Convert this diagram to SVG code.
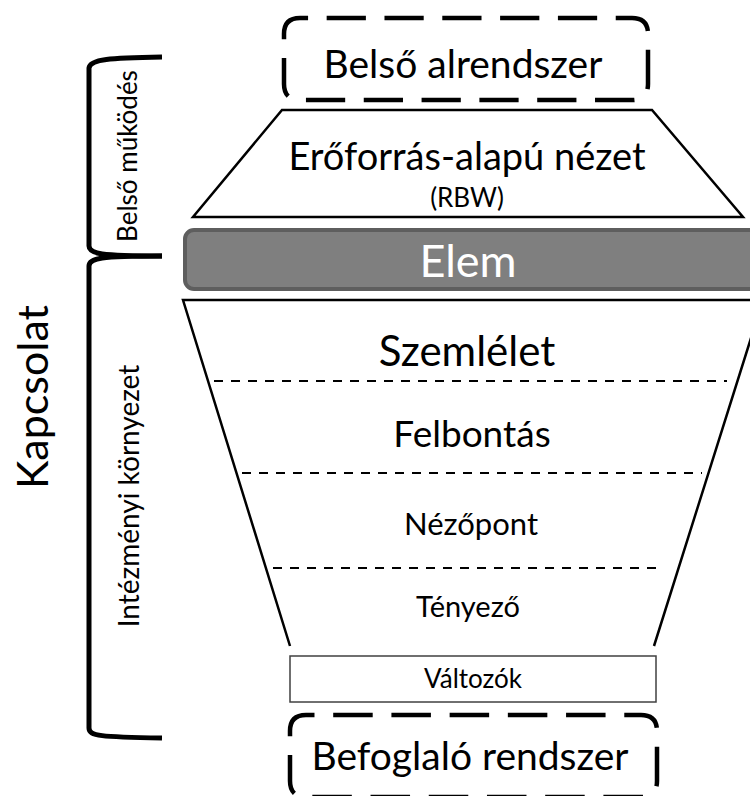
<svg xmlns="http://www.w3.org/2000/svg" width="750" height="796" viewBox="0 0 750 796">
  <style>
    text { font-family: Lato, "Open Sans", "Liberation Sans", sans-serif; fill: #000; text-anchor: middle; }
    .dashbox { fill: #fff; stroke: #000; stroke-width: 4.5; stroke-dasharray: 38 18; stroke-linecap: butt; }
    .shape { fill: #fff; stroke: #000; stroke-width: 2.5; stroke-linejoin: miter; }
    .sep { stroke: #000; stroke-width: 2; stroke-dasharray: 9 8; fill: none; }
    .brace { fill: none; stroke: #000; stroke-width: 5; stroke-linecap: butt; }
  </style>

  <rect width="750" height="796" fill="#fff"/>

  <!-- top subsystem -->
  <g id="belso-alrendszer">
    <path class="dashbox" pathLength="840" stroke-dashoffset="-20"
          d="M284,60 L284,34 Q284,18 300,18 L632,18 Q648,18 648,34 L648,84 Q648,100 632,100 L300,100 Q284,100 284,84 Z"/>
    <text x="463" y="78" font-size="39">Belső alrendszer</text>
  </g>

  <!-- resource-based view -->
  <g id="eroforras">
    <path class="shape" d="M282,110 L652,110 L743,217 L193,217 Z"/>
    <text x="467" y="170" font-size="38">Erőforrás-alapú nézet</text>
    <text x="467" y="207" font-size="26">(RBW)</text>
  </g>

  <!-- element bar -->
  <g id="elem">
    <rect x="185" y="230" width="600" height="59" rx="9" fill="#7f7f7f" stroke="#5e5e5e" stroke-width="4"/>
    <text x="468" y="277" font-size="45" style="fill:#fff">Elem</text>
  </g>

  <!-- funnel -->
  <g id="tolcser">
    <path class="shape" d="M290,646 L183,300 L763,300 L654,646"/>
    <text x="467" y="366" font-size="42">Szemlélet</text>
    <text x="472" y="447" font-size="37">Felbontás</text>
    <text x="471" y="535" font-size="31">Nézőpont</text>
    <text x="468" y="617" font-size="29">Tényező</text>
  </g>

  <g id="elvalasztok">
    <line class="sep" x1="214" y1="381" x2="727" y2="381"/>
    <line class="sep" x1="242" y1="473" x2="702" y2="473"/>
    <line class="sep" x1="273" y1="568" x2="660" y2="568"/>
  </g>

  <!-- variables -->
  <g id="valtozok">
    <rect x="290" y="656" width="366" height="46" fill="#fff" stroke="#404040" stroke-width="1.5"/>
    <text x="473" y="688" font-size="26">Változók</text>
  </g>

  <!-- enclosing system -->
  <g id="befoglalo-rendszer">
    <path class="dashbox" pathLength="840" stroke-dashoffset="-20"
          d="M290,757 L290,731 Q290,715 306,715 L641,715 Q657,715 657,731 L657,781 Q657,797 641,797 L306,797 Q290,797 290,781 Z"/>
    <text x="470" y="770" font-size="39">Befoglaló rendszer</text>
  </g>

  <!-- brackets on the left -->
  <g id="zarojelek">
    <path class="brace" d="M162,57 C110,58 90,59 89,68 L89,246 C89,254 100,256 162,256"/>
    <path class="brace" d="M162,256 C100,256 89,258 89,266 L89,728 C89,736 100,737 162,738"/>
  </g>

  <g id="cimkek">
    <text transform="translate(137,156) rotate(-90)" font-size="26">Belső működés</text>
    <text transform="translate(139,496) rotate(-90)" font-size="28">Intézményi környezet</text>
    <text transform="translate(48,397) rotate(-90)" font-size="43">Kapcsolat</text>
  </g>
</svg>
